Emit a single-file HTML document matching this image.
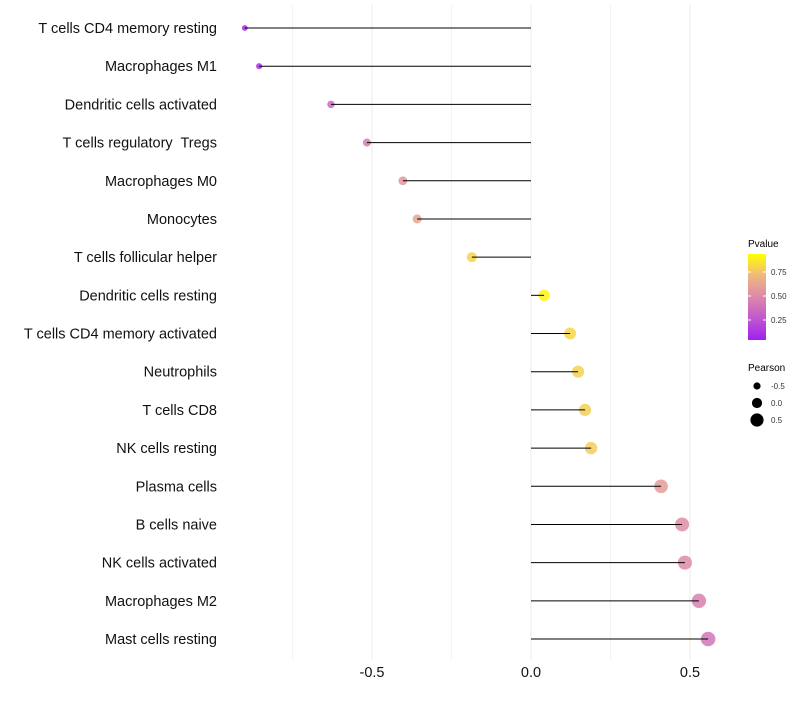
<!DOCTYPE html>
<html><head><meta charset="utf-8"><style>
body{margin:0;background:#fff}
svg text{font-family:"Liberation Sans",Arial,sans-serif;white-space:pre}
</style></head><body>
<svg id="chart" width="800" height="700" xmlns="http://www.w3.org/2000/svg">
<defs><linearGradient id="pg" x1="0" y1="1" x2="0" y2="0">
<stop offset="0" stop-color="#a020f0"/><stop offset="0.25" stop-color="#c058d0"/><stop offset="0.5" stop-color="#dc88a8"/><stop offset="0.75" stop-color="#f0b880"/><stop offset="1" stop-color="#ffff00"/></linearGradient></defs>
<g id="grid"></g>
<g id="marks"></g>
<g id="ylabels"></g>
<g id="xlabels"></g>
<g>
<text x="748" y="247" font-size="10" fill="#000">Pvalue</text>
<rect x="748" y="254" width="18" height="86" fill="url(#pg)"/>
<g id="cbticks"></g>
</g>
<g>
<text x="748" y="371" font-size="10" fill="#000">Pearson</text>
<g id="sizeleg"></g>
</g>
</svg>
<script>
const categories=["T cells CD4 memory resting","Macrophages M1","Dendritic cells activated","T cells regulatory  Tregs","Macrophages M0","Monocytes","T cells follicular helper","Dendritic cells resting","T cells CD4 memory activated","Neutrophils","T cells CD8","NK cells resting","Plasma cells","B cells naive","NK cells activated","Macrophages M2","Mast cells resting"];
const pearson=[-0.90,-0.855,-0.629,-0.516,-0.403,-0.358,-0.186,0.041,0.123,0.148,0.170,0.189,0.409,0.475,0.484,0.528,0.557];
const pvalue=[0.03,0.06,0.33,0.43,0.58,0.64,0.85,0.96,0.86,0.84,0.83,0.82,0.60,0.53,0.52,0.46,0.40];
const xTicks=[-0.5,0.0,0.5];
const xTickLabels=["-0.5","0.0","0.5"];
const cbTicks=[0.25,0.5,0.75];
const sizeLegend=[-0.5,0.0,0.5];

const NS="http://www.w3.org/2000/svg";
const x=v=>531+v*318;
const y=i=>28+i*38.19;
const r=p=>Math.max(1.8,5.6+3.0*p);
const stops=[[0,[160,32,240]],[0.25,[192,88,208]],[0.5,[220,136,168]],[0.75,[240,184,128]],[1,[255,255,0]]];
function col(p){p=Math.max(0,Math.min(1,p));for(let k=0;k<stops.length-1;k++){const a=stops[k],b=stops[k+1];if(p<=b[0]){const t=(p-a[0])/(b[0]-a[0]);return "rgb("+a[1].map((c,j)=>Math.round(c+(b[1][j]-c)*t)).join(",")+")";}}return "rgb(255,255,0)";}
function mk(tag,attrs,parent){const e=document.createElementNS(NS,tag);for(const k in attrs)e.setAttribute(k,attrs[k]);parent.appendChild(e);return e;}
const grid=document.getElementById('grid');
[-0.75,-0.5,-0.25,0,0.25,0.5].forEach(v=>{const l=mk('line',{x1:x(v),x2:x(v),y1:5,y2:660,stroke:'#ebebeb','stroke-width':Number.isInteger(v*2)?1:0.6},grid);

});
const marks=document.getElementById('marks');
const yl=document.getElementById('ylabels');
categories.forEach((c,i)=>{
 const c1=mk('circle',{cx:x(pearson[i]),cy:y(i),r:r(pearson[i]),fill:col(pvalue[i]),'fill-opacity':0.85},marks);
 
 
 const l=mk('line',{x1:x(0),x2:x(pearson[i]),y1:y(i),y2:y(i),stroke:'#000','stroke-width':1},marks);
 
 
 const t=mk('text',{x:217,y:y(i)+5,'text-anchor':'end','font-size':14.5,fill:'#111'},yl);
 t.textContent=c;
 
 
});
const xl=document.getElementById('xlabels');
xTicks.forEach((v,i)=>{const t=mk('text',{x:x(v),y:677,'text-anchor':'middle','font-size':14.5,fill:'#111'},xl);t.textContent=xTickLabels[i];

});
const cb=document.getElementById('cbticks');
cbTicks.forEach(v=>{const yy=344-v*96;mk('line',{x1:748,x2:751,y1:yy,y2:yy,stroke:'#fff'},cb);mk('line',{x1:763,x2:766,y1:yy,y2:yy,stroke:'#fff'},cb);
const t=mk('text',{x:771,y:yy+3,'font-size':8,fill:'#333'},cb);t.textContent=v.toFixed(2);

});
const sl=document.getElementById('sizeleg');
sizeLegend.forEach((v,i)=>{const yy=386+i*17;const c=mk('circle',{cx:757,cy:yy,r:r(v)-0.5,fill:'#000'},sl);


const t=mk('text',{x:771,y:yy+3,'font-size':8,fill:'#333'},sl);t.textContent=v.toFixed(1);

});
</script>
</body></html>
